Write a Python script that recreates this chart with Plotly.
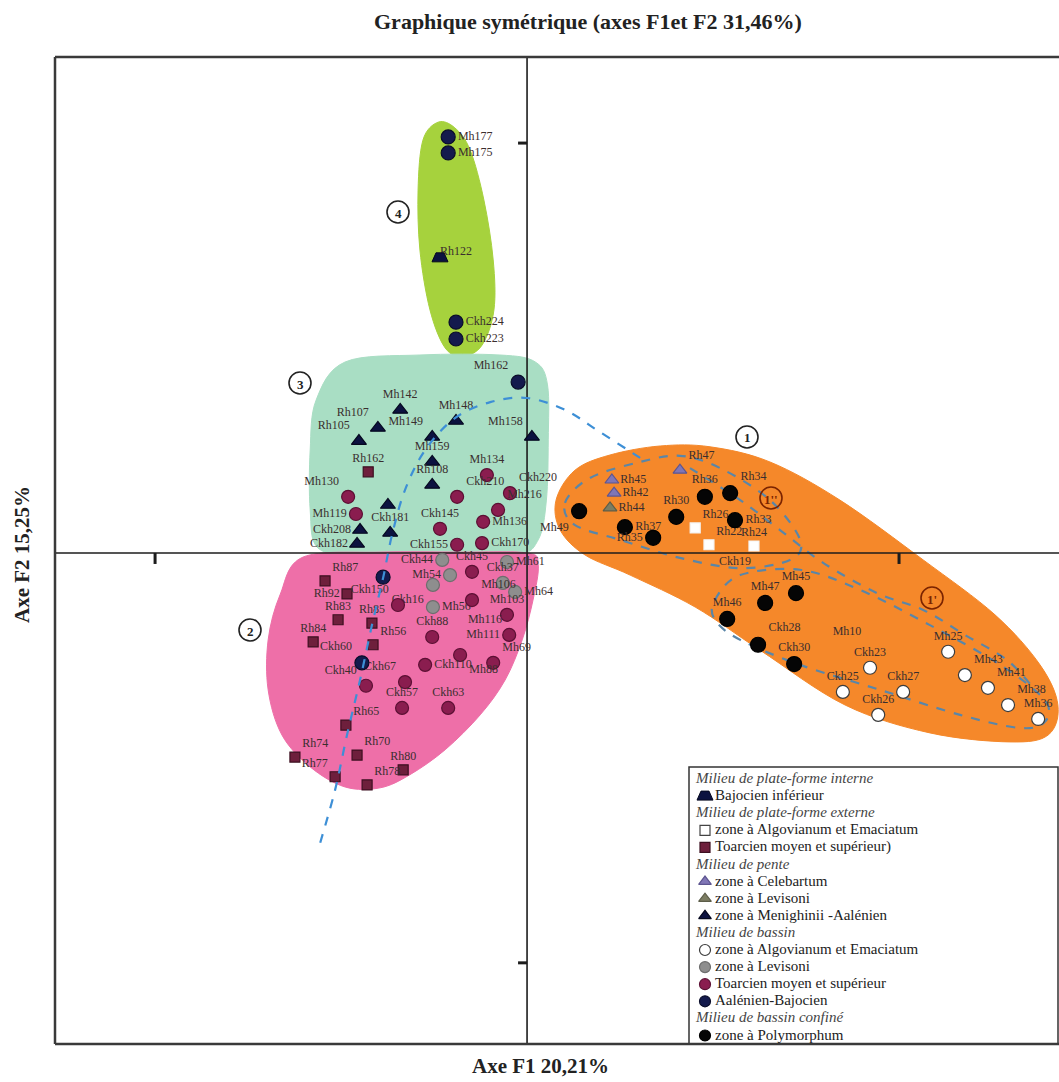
import plotly.graph_objects as go

# ---------------------------------------------------------------------------
# Sample scores on the first two factorial axes (F1, F2), one block per facies
# ---------------------------------------------------------------------------

# Milieu de plate-forme interne
bajo_inf_names = ["Rh122"]
bajo_inf_f1 = [-0.234]
bajo_inf_f2 = [0.720]

# Milieu de plate-forme externe
pfe_algo_names = ["Rh26", "Rh22", "Rh24"]
pfe_algo_f1 = [0.452, 0.489, 0.610]
pfe_algo_f2 = [0.061, 0.020, 0.017]

pfe_toarc_names = ["Rh162", "Rh87", "Rh92", "Rh83", "Rh85", "Rh84", "Rh56",
                   "Rh65", "Rh74", "Rh70", "Rh77", "Rh78", "Rh80"]
pfe_toarc_f1 = [-0.427, -0.543, -0.484, -0.508, -0.417, -0.575, -0.414,
                -0.487, -0.624, -0.457, -0.516, -0.430, -0.333]
pfe_toarc_f2 = [0.198, -0.068, -0.100, -0.163, -0.171, -0.217, -0.224,
                -0.420, -0.498, -0.493, -0.546, -0.566, -0.529]

# Milieu de pente
celeb_names = ["Rh45", "Rh42", "Rh47"]
celeb_f1 = [0.228, 0.234, 0.411]
celeb_f2 = [0.178, 0.146, 0.202]

levis_pente_names = ["Rh44"]
levis_pente_f1 = [0.223]
levis_pente_f2 = [0.110]

menig_names = ["Mh142", "Rh107", "Rh105", "Mh148", "Mh149", "Mh158", "Mh159",
               "Rh108", "", "Ckh208", "Ckh181", "Ckh182"]
menig_f1 = [-0.341, -0.401, -0.452, -0.191, -0.255, 0.013, -0.255,
            -0.255, -0.374, -0.449, -0.368, -0.457]
menig_f2 = [0.349, 0.305, 0.273, 0.322, 0.283, 0.283, 0.222,
            0.166, 0.117, 0.056, 0.049, 0.022]

# Milieu de bassin
bassin_algo_names = ["Mh25", "Ckh23", "Ckh25", "Ckh27", "Ckh26",
                     "Mh43", "Mh41", "Mh38", "Mh36"]
bassin_algo_f1 = [1.132, 0.922, 0.849, 1.011, 0.944, 1.177, 1.239, 1.293, 1.374]
bassin_algo_f2 = [-0.241, -0.280, -0.339, -0.339, -0.395, -0.298, -0.329, -0.371, -0.405]

bassin_levis_names = ["Ckh44", "Mh54", "Mh61", "Ckh37", "Mh64", "Ckh16", "Mh56"]
bassin_levis_f1 = [-0.228, -0.207, -0.054, -0.065, -0.032, -0.253, -0.253]
bassin_levis_f2 = [-0.017, -0.054, -0.022, -0.073, -0.095, -0.078, -0.132]

bassin_toarc_names = ["Mh134", "Mh130", "Ckh210", "Ckh220", "Mh119", "Mh216",
                      "Mh136", "Ckh145", "Ckh170", "Ckh155", "Ckh45", "Mh106",
                      "Mh103", "Ckh150", "Ckh88", "Mh111", "Mh88", "Mh69",
                      "Ckh110", "Ckh67", "Ckh57", "Ckh63", "Ckh40"]
bassin_toarc_f1 = [-0.108, -0.481, -0.188, -0.046, -0.460, -0.078,
                   -0.118, -0.234, -0.121, -0.188, -0.148, -0.148,
                   -0.054, -0.347, -0.255, -0.048, -0.180, -0.091,
                   -0.274, -0.328, -0.336, -0.212, -0.433]
bassin_toarc_f2 = [0.190, 0.137, 0.137, 0.146, 0.095, 0.105,
                   0.076, 0.059, 0.024, 0.020, -0.046, -0.115,
                   -0.151, -0.127, -0.205, -0.200, -0.249, -0.268,
                   -0.273, -0.315, -0.378, -0.378, -0.324]

aal_bajo_names = ["Mh177", "Mh175", "Ckh224", "Ckh223", "Mh162", "", "Ckh60"]
aal_bajo_f1 = [-0.212, -0.212, -0.191, -0.191, -0.024, -0.387, -0.444]
aal_bajo_f2 = [1.015, 0.976, 0.563, 0.522, 0.417, -0.059, -0.268]

# Milieu de bassin confiné
polymorph_names = ["Mh49", "Rh36", "Rh34", "Rh30", "Rh33", "Rh37", "Rh35",
                   "Mh45", "Mh47", "Mh46", "Ckh28", "Ckh30"]
polymorph_f1 = [0.140, 0.478, 0.546, 0.401, 0.559, 0.263, 0.339,
                0.723, 0.640, 0.538, 0.621, 0.718]
polymorph_f2 = [0.102, 0.137, 0.146, 0.088, 0.080, 0.063, 0.037,
                -0.098, -0.122, -0.161, -0.224, -0.271]

# labels whose symbol is hidden under other marks
hidden_names = ["Ckh19", "Mh10", "Mh116"]
hidden_f1 = [0.559, 0.860, -0.113]
hidden_f2 = [-0.022, -0.193, -0.163]

# ---------------------------------------------------------------------------
# Label placement around each symbol
# ---------------------------------------------------------------------------
bajo_inf_pos = ["top right"]
pfe_algo_pos = ["top right", "top right", "top center"]
pfe_toarc_pos = ["top center", "top right", "middle left", "top center",
                 "top center", "top center", "top right", "top right",
                 "top right", "top right", "top left", "top right", "top center"]
celeb_pos = ["middle right", "middle right", "top right"]
levis_pente_pos = ["middle right"]
menig_pos = ["top center", "top left", "top left", "top center", "top left",
             "top left", "top center", "top center", "top center",
             "middle left", "top center", "middle left"]
bassin_algo_pos = ["top center"] * 5 + ["top right"] * 3 + ["top center"]
bassin_levis_pos = ["middle left", "middle left", "middle right", "top center",
                    "middle right", "bottom left", "middle right"]
bassin_toarc_pos = ["top center", "top left", "top right", "top right",
                    "middle left", "top right", "middle right", "top center",
                    "middle right", "middle left", "top center", "top right",
                    "top center", "top left", "top center", "middle left",
                    "bottom right", "top right", "middle right", "top left",
                    "top center", "top center", "top left"]
aal_bajo_pos = ["middle right"] * 4 + ["top left", "top center", "top left"]
polymorph_pos = ["bottom left", "top center", "top right", "top center",
                 "middle right", "middle right", "middle left", "top center",
                 "top center", "top center", "top right", "top center"]

# ---------------------------------------------------------------------------
# Geometry of the page
# ---------------------------------------------------------------------------
FIG_W, FIG_H = 1059, 1082
M_L, M_R, M_T, M_B = 55, 0, 57, 38
PLOT_W = FIG_W - M_L - M_R
PLOT_H = FIG_H - M_T - M_B
X_RANGE = [-1.269, 1.430]
Y_RANGE = [-1.198, 1.210]
UX = PLOT_W / (X_RANGE[1] - X_RANGE[0])   # pixels per F1 unit
UY = PLOT_H / (Y_RANGE[1] - Y_RANGE[0])   # pixels per F2 unit


def px_x(px):
    return X_RANGE[0] + (px - M_L) / UX


def px_y(py):
    return Y_RANGE[1] - (py - M_T) / UY


def pp_x(px):
    return (px - M_L) / PLOT_W


def pp_y(py):
    return (FIG_H - M_B - py) / PLOT_H


def spline_path(pts, closed=True):
    """Catmull-Rom curve through the vertices, as an SVG path."""
    n = len(pts)
    if closed:
        ext = [pts[-1]] + pts + [pts[0], pts[1]]
        segs = range(1, n + 1)
    else:
        ext = [pts[0]] + pts + [pts[-1]]
        segs = range(1, n)
    d = "M {:.4f},{:.4f}".format(*ext[1])
    for i in segs:
        p0, p1, p2, p3 = ext[i - 1], ext[i], ext[i + 1], ext[i + 2]
        c1 = (p1[0] + (p2[0] - p0[0]) / 6, p1[1] + (p2[1] - p0[1]) / 6)
        c2 = (p2[0] - (p3[0] - p1[0]) / 6, p2[1] - (p3[1] - p1[1]) / 6)
        d += " C {:.4f},{:.4f} {:.4f},{:.4f} {:.4f},{:.4f}".format(*c1, *c2, *p2)
    if closed:
        d += " Z"
    return d


def trapezoid_path(x, y, s=1.0, paper=False):
    ux, uy = (PLOT_W, PLOT_H) if paper else (UX, UY)
    wb, wt = 8 * s / ux, 4 * s / ux
    hb, ht = 4 * s / uy, 5 * s / uy
    return (f"M {x - wb},{y - hb} L {x + wb},{y - hb} "
            f"L {x + wt},{y + ht} L {x - wt},{y + ht} Z")


# ---------------------------------------------------------------------------
# Group envelopes (F1, F2 vertices)
# ---------------------------------------------------------------------------
env_4 = [(-0.239, 1.051), (-0.194, 1.037), (-0.153, 0.983), (-0.116, 0.861),
         (-0.091, 0.715), (-0.089, 0.593), (-0.121, 0.507), (-0.172, 0.480),
         (-0.220, 0.500), (-0.261, 0.593), (-0.288, 0.739), (-0.293, 0.885),
         (-0.280, 1.007)]
env_3 = [(-0.489, 0.466), (-0.288, 0.483), (-0.073, 0.483), (0.022, 0.466),
         (0.055, 0.410), (0.057, 0.276), (0.052, 0.129), (0.030, 0.032),
         (-0.032, -0.007), (-0.234, -0.012), (-0.449, -0.007), (-0.562, 0.012),
         (-0.583, 0.105), (-0.583, 0.251), (-0.567, 0.373)]
env_2 = [(-0.602, -0.010), (-0.395, 0.002), (-0.180, 0.002), (0.000, 0.000),
         (0.030, -0.029), (0.016, -0.115), (-0.013, -0.212), (-0.059, -0.310),
         (-0.126, -0.395), (-0.220, -0.480), (-0.315, -0.541), (-0.395, -0.573),
         (-0.489, -0.571), (-0.583, -0.522), (-0.659, -0.444), (-0.696, -0.334),
         (-0.696, -0.212), (-0.664, -0.102)]
env_1 = [(0.078, 0.129), (0.129, 0.202), (0.223, 0.239), (0.358, 0.261),
         (0.492, 0.259), (0.653, 0.222), (0.841, 0.129), (1.065, -0.017),
         (1.258, -0.151), (1.379, -0.273), (1.427, -0.371), (1.401, -0.444),
         (1.298, -0.461), (1.083, -0.439), (0.855, -0.371), (0.626, -0.237),
         (0.452, -0.132), (0.277, -0.054), (0.156, -0.005), (0.089, 0.056)]
env_1b = [(0.102, 0.122), (0.169, 0.183), (0.304, 0.222), (0.411, 0.237),
          (0.519, 0.207), (0.653, 0.129), (0.734, 0.032), (0.707, -0.017),
          (0.573, -0.037), (0.411, -0.012), (0.250, 0.032), (0.129, 0.068)]
env_1a = [(0.505, -0.115), (0.573, -0.054), (0.734, -0.041), (0.895, -0.090),
          (1.083, -0.176), (1.272, -0.273), (1.392, -0.359), (1.392, -0.412),
          (1.325, -0.427), (1.164, -0.395), (0.949, -0.334), (0.734, -0.273),
          (0.573, -0.212), (0.505, -0.163)]
trend_line = [(-0.556, -0.707), (-0.516, -0.578), (-0.484, -0.444),
              (-0.449, -0.310), (-0.417, -0.176), (-0.387, -0.061),
              (-0.363, 0.044), (-0.328, 0.154), (-0.274, 0.251),
              (-0.194, 0.329), (-0.099, 0.368), (0.000, 0.378),
              (0.102, 0.349), (0.196, 0.295), (0.304, 0.232)]
trend_line_1 = [(0.438, 0.207), (0.573, 0.129), (0.680, 0.056), (0.796, -0.024),
                (0.941, -0.098), (1.065, -0.139), (1.177, -0.200),
                (1.290, -0.261), (1.366, -0.334)]

# ---------------------------------------------------------------------------
# Styles
# ---------------------------------------------------------------------------
SERIF = "Liberation Serif"
LABEL_FONT = dict(family=SERIF, size=12, color="#3a2e2e")

series = [
    dict(key="A", names=bajo_inf_names, f1=bajo_inf_f1, f2=bajo_inf_f2, pos=bajo_inf_pos,
         symbol=None, size=0, color="#0c1240", line="#0c1240"),
    dict(key="B", names=pfe_algo_names, f1=pfe_algo_f1, f2=pfe_algo_f2, pos=pfe_algo_pos,
         symbol="square", size=10, color="#ffffff", line="#f4f4f4"),
    dict(key="C", names=pfe_toarc_names, f1=pfe_toarc_f1, f2=pfe_toarc_f2, pos=pfe_toarc_pos,
         symbol="square", size=10, color="#6e1f3c", line="#3d0f20"),
    dict(key="D", names=celeb_names, f1=celeb_f1, f2=celeb_f2, pos=celeb_pos,
         symbol="triangle-up", size=12, color="#8076b6", line="#5d5590"),
    dict(key="E", names=levis_pente_names, f1=levis_pente_f1, f2=levis_pente_f2,
         pos=levis_pente_pos, symbol="triangle-up", size=12, color="#7c7d63", line="#5c5d48"),
    dict(key="F", names=menig_names, f1=menig_f1, f2=menig_f2, pos=menig_pos,
         symbol="triangle-up", size=13, color="#0c1240", line="#05081f"),
    dict(key="G", names=bassin_algo_names, f1=bassin_algo_f1, f2=bassin_algo_f2,
         pos=bassin_algo_pos, symbol="circle", size=13, color="#ffffff", line="#3c3c3c"),
    dict(key="H", names=bassin_levis_names, f1=bassin_levis_f1, f2=bassin_levis_f2,
         pos=bassin_levis_pos, symbol="circle", size=13, color="#8e8e8e", line="#6e6e6e"),
    dict(key="I", names=bassin_toarc_names, f1=bassin_toarc_f1, f2=bassin_toarc_f2,
         pos=bassin_toarc_pos, symbol="circle", size=13, color="#8a1d4f", line="#5c1034"),
    dict(key="J", names=aal_bajo_names, f1=aal_bajo_f1, f2=aal_bajo_f2, pos=aal_bajo_pos,
         symbol="circle", size=14, color="#141a4d", line="#0a0d2a"),
    dict(key="K", names=polymorph_names, f1=polymorph_f1, f2=polymorph_f2,
         pos=polymorph_pos, symbol="circle", size=15, color="#050505", line="#000000"),
]
style = {s["key"]: s for s in series}

legend_rows = [
    ("Milieu de plate-forme interne", None),
    ("Bajocien inférieur", "A"),
    ("Milieu de plate-forme externe", None),
    ("zone à Algovianum et Emaciatum", "B"),
    ("Toarcien moyen et supérieur)", "C"),
    ("Milieu de pente", None),
    ("zone à Celebartum", "D"),
    ("zone à Levisoni", "E"),
    ("zone à Menighinii -Aalénien", "F"),
    ("Milieu de bassin", None),
    ("zone à Algovianum et Emaciatum", "G"),
    ("zone à Levisoni", "H"),
    ("Toarcien moyen et supérieur", "I"),
    ("Aalénien-Bajocien", "J"),
    ("Milieu de bassin confiné", None),
    ("zone à Polymorphum", "K"),
]

# ---------------------------------------------------------------------------
# Figure
# ---------------------------------------------------------------------------
fig = go.Figure()
shapes = []

# coloured envelopes of the four groups
for pts, fill in [(env_4, "#a6d23d"), (env_3, "#a9dec4"),
                  (env_2, "#ee6fa8"), (env_1, "#f5882a")]:
    shapes.append(dict(type="path", path=spline_path(pts), fillcolor=fill,
                       line=dict(color=fill, width=1), layer="below"))

# dashed sub-group outlines inside group 1
for pts in (env_1b, env_1a):
    shapes.append(dict(type="path", path=spline_path(pts),
                       line=dict(color="#5a86a8", width=2.2, dash="dash"),
                       layer="below"))
shapes.append(dict(type="path", path=spline_path(trend_line_1, closed=False),
                   line=dict(color="#5a86a8", width=2.2, dash="dash"), layer="below"))

# factorial axes through the origin
shapes.append(dict(type="line", x0=0, x1=0, y0=Y_RANGE[0], y1=Y_RANGE[1],
                   line=dict(color="#1c1c1c", width=1.6), layer="below"))
shapes.append(dict(type="line", x0=X_RANGE[0], x1=X_RANGE[1], y0=0, y1=0,
                   line=dict(color="#1c1c1c", width=1.6), layer="below"))
for t in (-1, 1):
    shapes.append(dict(type="line", x0=t, x1=t, y0=0, y1=-11 / UY,
                       line=dict(color="#1c1c1c", width=3), layer="below"))
    shapes.append(dict(type="line", x0=0, x1=-9 / UX, y0=t, y1=t,
                       line=dict(color="#1c1c1c", width=3), layer="below"))

# legend box (under the symbol trace, over the envelopes)
LX0, LY0, LX1, LY1 = 689, 767, 1058, 1044
shapes.append(dict(type="rect", xref="paper", yref="paper",
                   x0=pp_x(LX0), x1=pp_x(LX1), y0=pp_y(LY1), y1=pp_y(LY0),
                   fillcolor="white", line=dict(color="#333333", width=1.5),
                   layer="below"))

# trend line across groups 2 and 3
shapes.append(dict(type="path", path=spline_path(trend_line, closed=False),
                   line=dict(color="#3d8fd6", width=2.2, dash="dash"), layer="above"))

# frame (left, top, bottom)
for x0, y0, x1, y1 in [(0, 0, 0, 1), (0, 1, 1, 1), (0, 0, 1, 0)]:
    shapes.append(dict(type="line", xref="paper", yref="paper", x0=x0, y0=y0,
                       x1=x1, y1=y1, line=dict(color="#3a3a3a", width=2.5)))

# trapezoid symbols
for x, y in zip(bajo_inf_f1, bajo_inf_f2):
    shapes.append(dict(type="path", path=trapezoid_path(x, y),
                       fillcolor=style["A"]["color"], line=dict(color="#05081f", width=1)))

# scatter of samples
for s in series:
    show_marker = s["symbol"] is not None
    fig.add_trace(go.Scatter(
        x=s["f1"], y=s["f2"], text=s["names"], textposition=s["pos"],
        mode="markers+text" if show_marker else "text",
        marker=dict(symbol=s["symbol"] or "circle", size=s["size"], color=s["color"],
                    opacity=1, line=dict(color=s["line"], width=1.2)),
        textfont=LABEL_FONT, cliponaxis=False, showlegend=False, hoverinfo="text"))

fig.add_trace(go.Scatter(x=hidden_f1, y=hidden_f2, text=hidden_names,
                         mode="text", textfont=LABEL_FONT, showlegend=False))

annotations = []


def note(px, py, text, size, color, xanchor="center", angle=0, italic=False):
    annotations.append(dict(xref="paper", yref="paper", x=pp_x(px), y=pp_y(py),
                            xanchor=xanchor, yanchor="middle", text=text,
                            showarrow=False, textangle=angle,
                            font=dict(family=SERIF, size=size, color=color,
                                      style="italic" if italic else "normal")))


# circled group numbers
for txt, cx, cy, col in [("1", 747, 437, "#222222"), ("1''", 771, 498, "#7a2300"),
                         ("1'", 932, 598, "#7a2300"), ("2", 250, 630, "#222222"),
                         ("3", 300, 383, "#222222"), ("4", 398, 212, "#222222")]:
    r = 11
    shapes.append(dict(type="circle", xref="paper", yref="paper",
                       x0=pp_x(cx - r), x1=pp_x(cx + r), y0=pp_y(cy + r), y1=pp_y(cy - r),
                       line=dict(color=col, width=1.6)))
    note(cx, cy + 1, f"<b>{txt}</b>", 13, col)

# legend rows
row_y0, row_dy = 778, 17.1
leg_x, leg_y, leg_sym, leg_col, leg_size, leg_line = [], [], [], [], [], []
for i, (txt, key) in enumerate(legend_rows):
    y = row_y0 + i * row_dy
    if key is None:
        note(693, y, txt, 15, "#444444", xanchor="left", italic=True)
        continue
    note(713, y, txt, 15, "#222222", xanchor="left")
    st = style[key]
    if st["symbol"] is None:
        shapes.append(dict(type="path", xref="paper", yref="paper",
                           path=trapezoid_path(pp_x(705), pp_y(y + 1), paper=True),
                           fillcolor=st["color"], line=dict(color="#05081f", width=1)))
    else:
        leg_x.append(px_x(705))
        leg_y.append(px_y(y + 1))
        leg_sym.append(st["symbol"])
        leg_col.append(st["color"])
        leg_size.append(min(st["size"], 11))
        leg_line.append("#444444" if key == "B" else st["line"])

fig.add_trace(go.Scatter(x=leg_x, y=leg_y, mode="markers", showlegend=False,
                         hoverinfo="skip", cliponaxis=False,
                         marker=dict(symbol=leg_sym, color=leg_col, size=leg_size,
                                     opacity=1, line=dict(color=leg_line, width=1.2))))

# title and axis titles
note(588, 21, "<b>Graphique symétrique (axes F1et F2 31,46%)</b>", 22, "#222222")
note(540, 1066, "<b>Axe F1 20,21%</b>", 21, "#222222")
note(22, 555, "<b>Axe F2 15,25%</b>", 21, "#222222", angle=-90)

fig.update_layout(
    width=FIG_W, height=FIG_H,
    margin=dict(l=M_L, r=M_R, t=M_T, b=M_B, pad=0),
    paper_bgcolor="white", plot_bgcolor="white",
    xaxis=dict(range=X_RANGE, visible=False, fixedrange=True),
    yaxis=dict(range=Y_RANGE, visible=False, fixedrange=True),
    shapes=shapes, annotations=annotations, showlegend=False,
)

fig.write_html("out.html")
